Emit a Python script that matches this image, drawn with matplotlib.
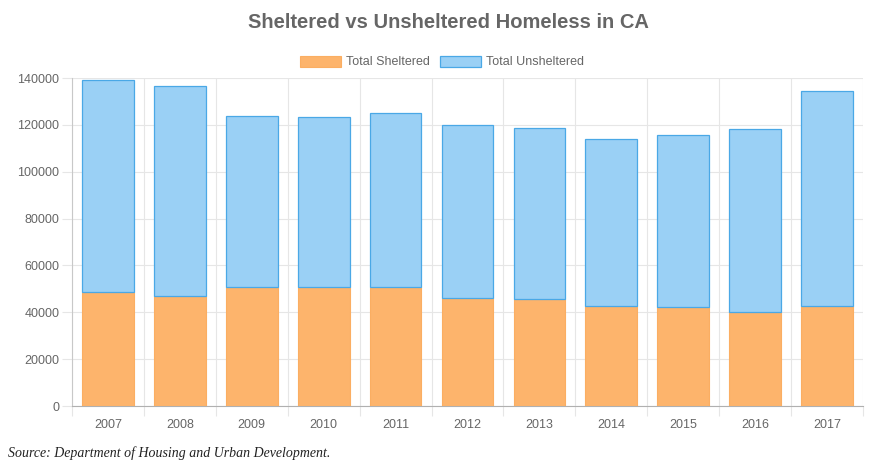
import numpy as np
import matplotlib
matplotlib.use("Agg")
import matplotlib.pyplot as plt

# data
years = ["2007", "2008", "2009", "2010", "2011", "2012", "2013", "2014", "2015", "2016", "2017"]
total = [138986, 136531, 123678, 123480, 125128, 120098, 118552, 113952, 115738, 118142, 134278]
sheltered = [48700, 46900, 50800, 50900, 50800, 46000, 45600, 42800, 42100, 40000, 42800]
unsheltered = [t - s for t, s in zip(total, sheltered)]
yticks = [0, 20000, 40000, 60000, 80000, 100000, 120000, 140000]

plt.rcParams['font.family'] = ['Liberation Sans', 'DejaVu Sans']
txt = "#666666"
grid = "#e6e6e6"

fig = plt.figure(figsize=(8.84, 4.65), dpi=100)
ax = fig.add_axes([72 / 884, 59 / 465, (863 - 72) / 884, (406 - 78) / 465])

x = np.arange(len(years))
ax.bar(x, sheltered, width=0.72, color="#fdb46c", edgecolor="#fbae62", linewidth=0.8,
       label="Total Sheltered", zorder=3)
ax.bar(x, unsheltered, bottom=sheltered, width=0.72, color="#9ad0f5", edgecolor="#4aa8e6",
       linewidth=0.9, label="Total Unsheltered", zorder=3)

ax.set_xlim(-0.5, len(years) - 0.5)
ax.set_ylim(0, 140000)
ax.set_xticks(x)
ax.set_xticklabels(years)
ax.set_xticks(np.arange(len(years) + 1) - 0.5, minor=True)
ax.set_yticks(yticks)
ax.set_yticklabels([str(v) for v in yticks])

ax.tick_params(axis="x", which="major", length=0, pad=9, labelsize=9, labelcolor=txt)
ax.tick_params(axis="x", which="minor", length=7, color=grid, width=0.8)
ax.tick_params(axis="y", length=7, color=grid, width=0.8, pad=2, labelsize=9, labelcolor=txt)

ax.grid(True, axis="x", which="minor", color=grid, linewidth=0.8, zorder=0)
ax.grid(True, axis="y", which="major", color=grid, linewidth=0.8, zorder=0)
ax.grid(False, axis="x", which="major")

for side in ["top", "right"]:
    ax.spines[side].set_visible(False)
ax.spines["left"].set_color("#c8c8c8")
ax.spines["bottom"].set_color("#b0b0b0")
ax.spines["left"].set_linewidth(0.8)
ax.spines["bottom"].set_linewidth(0.8)

fig.text(448 / 884, 1 - 22 / 465, "Sheltered vs Unsheltered Homeless in CA", ha="center", va="center",
         fontsize=14.5, fontweight="bold", color=txt)

leg = fig.legend(loc="center", bbox_to_anchor=(0.5, 1 - 62 / 465), ncol=2, frameon=False,
                 fontsize=9, handlelength=3.3, handleheight=1.0, handletextpad=0.4,
                 columnspacing=0.75, labelcolor=txt)

fig.text(8 / 884, 1 - 453 / 465, "Source: Department of Housing and Urban Development.",
         ha="left", va="center", fontsize=10, style="italic", color="#222222",
         family=["Liberation Serif", "DejaVu Serif"])

plt.savefig("out.png", dpi=100)
